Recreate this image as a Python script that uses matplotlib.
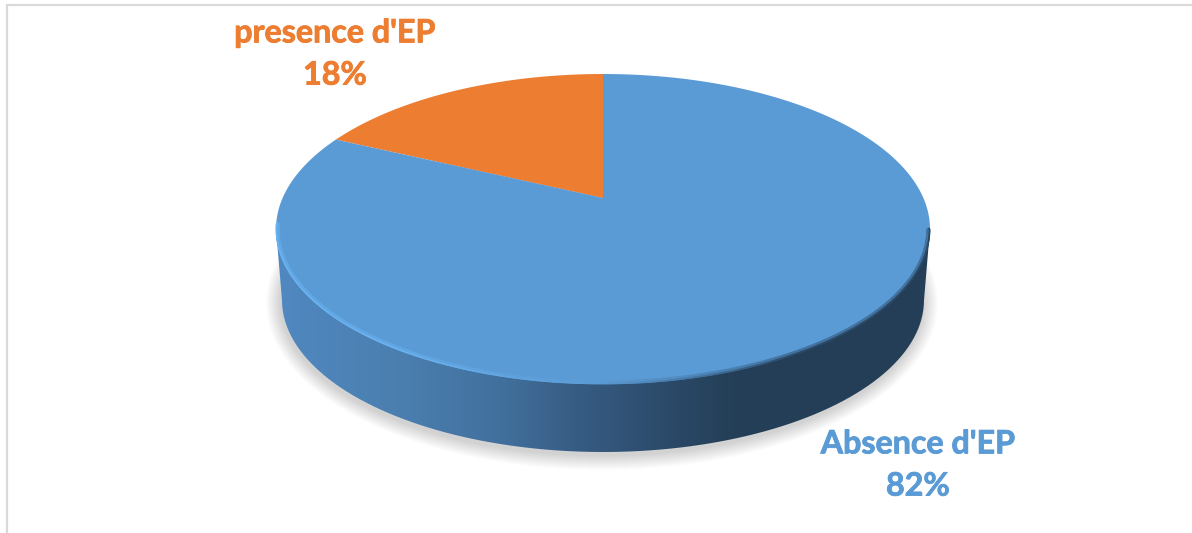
import numpy as np
import matplotlib
matplotlib.use("Agg")
import matplotlib.pyplot as plt
import matplotlib.patheffects as pe
from matplotlib.collections import LineCollection
from matplotlib.colors import LinearSegmentedColormap, to_rgb
from matplotlib.patches import Ellipse, PathPatch
from matplotlib.path import Path
from matplotlib.transforms import Affine2D, Transform

labels = ["presence d'EP", "Absence d'EP"]
values = [18, 82]
colors = ["#ed7d31", "#5b9bd5"]
label_pos = [(335, 54), (918, 465)]

# geometrie du disque en pixels de l'image
CX, CY, RX, RY = 603, 229, 327, 155
BCY, BRX, BRY = 300, 321, 152


# perspective : le centre du disque remonte vers le haut de l'ellipse
class Perspective(Transform):
    input_dims = 2
    output_dims = 2

    def transform_non_affine(self, values):
        x, y = values[:, 0], values[:, 1]
        w = 1 + 0.2 * y
        return np.column_stack([CX + RX * np.sqrt(0.96) * x / w,
                                CY - RY * (y + 0.2) / w])

    def transform_path_non_affine(self, path):
        # aplatir les courbes avant la perspective
        poly = path.to_polygons(Affine2D().scale(1000), closed_only=True)[0] / 1000
        return Path(self.transform_non_affine(poly), closed=False)


def arc(cx, cy, rx, ry, t0, t1, n=200):
    t = np.radians(np.linspace(t0, t1, n))
    return np.column_stack([cx + rx * np.cos(t), cy + ry * np.sin(t)])


plt.rcParams["font.family"] = ["Lato", "DejaVu Sans"]
fig = plt.figure(figsize=(11.92, 5.33), dpi=100, facecolor="white")
ax = fig.add_axes([0, 0, 1, 1])

wedges, _ = ax.pie(values, colors=colors, startangle=90, counterclock=True,
                   wedgeprops={"linewidth": 0})
persp = Perspective()
for w in wedges:
    w.set_transform(persp + ax.transData)
    w.set_zorder(5)

# ombre sous le disque
for k in range(15, 0, -1):
    ax.add_patch(Ellipse((CX - 1, BCY + 3), 2 * (BRX + k), 2 * (BRY + k),
                         fc="black", ec="none", alpha=0.011, zorder=1))

# flanc du disque avec degrade horizontal
side = np.vstack([arc(CX, BCY, BRX, BRY, 0, 180),
                  [[CX - RX, CY], [CX + RX, CY]]])
side_patch = PathPatch(Path(side, closed=False), fc="none", ec="none")
ax.add_patch(side_patch)
cmap = LinearSegmentedColormap.from_list("side", [
    (0.00, "#5088c0"), (0.20, "#4a7eae"), (0.35, "#416f9c"), (0.46, "#375c83"),
    (0.60, "#2b4a69"), (0.70, "#243f57"), (1.00, "#233e56")])
im = ax.imshow(np.linspace(0, 1, 512).reshape(1, -1), cmap=cmap, aspect="auto",
               extent=(CX - RX, CX + RX, 470, 200), zorder=2)
im.set_clip_path(side_patch)

# biseau clair en bas a gauche, sombre en bas a droite
angles = np.linspace(0, 182, 400)
pts = arc(CX, CY, RX - 1, RY - 1, 0, 182, 400)
segs = np.stack([pts[:-1], pts[1:]], axis=1)
base = np.array(to_rgb("#5b9bd5"))
light = np.array(to_rgb("#69b2f0"))
dark = np.array(to_rgb("#2a4a68"))
mix = angles[:-1] / 182
line_colors = []
for m in mix:
    if m > 0.5:
        f = min((m - 0.5) / 0.2, 1)
        line_colors.append(base + (light - base) * f)
    else:
        f = min((0.5 - m) / 0.2, 1)
        line_colors.append(base + (dark - base) * f)
ax.add_collection(LineCollection(segs, colors=line_colors, linewidths=2.0,
                                 capstyle="round", zorder=6))
inner = arc(CX, CY, RX - 2.6, RY - 2.6, 0, 182, 400)
inner_colors = [(c + base) / 2 for c in line_colors]
ax.add_collection(LineCollection(np.stack([inner[:-1], inner[1:]], axis=1),
                                 colors=inner_colors, linewidths=1.6,
                                 capstyle="round", zorder=6))

# cadre
ax.plot([7, 7, 1192], [533, 4.5, 4.5], color="#d9d9d9", lw=1.6, zorder=0,
        solid_joinstyle="miter")

for lab, val, col, pos in zip(labels, values, colors, label_pos):
    ax.text(pos[0], pos[1], f"{lab}\n{val}%", color=col, fontsize=23.2,
            fontweight="bold", ha="center", va="center", linespacing=1.55,
            zorder=7, path_effects=[pe.withStroke(linewidth=0.6, foreground=col)])

ax.set(xlim=(0, 1192), ylim=(533, 0), aspect="auto", xticks=[], yticks=[])
ax.set_frame_on(False)
fig.savefig("out.png", dpi=100, facecolor="white")
